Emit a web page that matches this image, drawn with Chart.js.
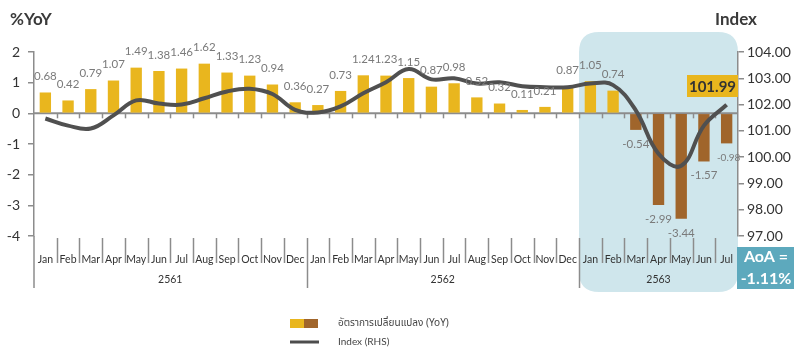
<!DOCTYPE html>
<html>
<head>
<meta charset="utf-8">
<script src="https://cdn.jsdelivr.net/npm/chart.js@4.4.1/dist/chart.umd.min.js"></script>
<style>
  html, body { margin: 0; padding: 0; background: #fff; }
  #wrap { width: 794px; height: 349px; position: relative; }
</style>
</head>
<body>
<div id="wrap"><canvas id="cpiChart" width="794" height="349"></canvas></div>
<script>
// Data
const months = ['Jan','Feb','Mar','Apr','May','Jun','Jul','Aug','Sep','Oct','Nov','Dec',
                'Jan','Feb','Mar','Apr','May','Jun','Jul','Aug','Sep','Oct','Nov','Dec',
                'Jan','Feb','Mar','Apr','May','Jun','Jul'];
const years = ['2561', '2562', '2563'];
const monthsPerYear = [12, 12, 7];
const yoyChange = [0.68, 0.42, 0.79, 1.07, 1.49, 1.38, 1.46, 1.62, 1.33, 1.23, 0.94, 0.36,
                   0.27, 0.73, 1.24, 1.23, 1.15, 0.87, 0.98, 0.52, 0.32, 0.11, 0.21, 0.87,
                   1.05, 0.74, -0.54, -2.99, -3.44, -1.57, -0.98];
const indexRHS = [101.47, 101.2, 101.09, 101.59, 102.16, 102.04, 102.0, 102.24, 102.5, 102.6, 102.4, 101.8,
                  101.7, 101.93, 102.43, 102.85, 103.35, 102.96, 103.0, 102.8, 102.85, 102.7, 102.66, 102.66,
                  102.8, 102.74, 101.78, 100.13, 99.67, 101.2, 101.99];
const leftTicks = [-4, -3, -2, -1, 0, 1, 2];
const rightTicks = [97, 98, 99, 100, 101, 102, 103, 104];
const lastIndexLabel = '101.99';
const aoaText = ['AoA =', '-1.11%'];
const legendBar = 'อัตราการเปลี่ยนแปลง (YoY)';
const legendLine = 'Index (RHS)';

const GOLD = '#E9B61E';
const BROWN = '#A0652B';
const HILITE = '#CFE6EC';
const AXIS = '#8C8C8C';
const FONT = 'Lato, "Noto Sans", sans-serif';
const THAI = '"Noto Sans Thai", "Noto Sans Thai UI", "Noto Sans", sans-serif';

function roundRect(ctx, x, y, w, h, r) {
  ctx.beginPath();
  ctx.moveTo(x + r, y);
  ctx.lineTo(x + w - r, y);
  ctx.quadraticCurveTo(x + w, y, x + w, y + r);
  ctx.lineTo(x + w, y + h - r);
  ctx.quadraticCurveTo(x + w, y + h, x + w - r, y + h);
  ctx.lineTo(x + r, y + h);
  ctx.quadraticCurveTo(x, y + h, x, y + h - r);
  ctx.lineTo(x, y + r);
  ctx.quadraticCurveTo(x, y, x + r, y);
  ctx.closePath();
}

// highlight box behind 2563
const highlightPlugin = {
  id: 'highlight',
  beforeDraw(chart) {
    const { ctx, chartArea, scales } = chart;
    const start = monthsPerYear[0] + monthsPerYear[1];
    const x0 = scales.x.getPixelForValue(start - 0.5);
    const x1 = chartArea.right;
    ctx.save();
    ctx.fillStyle = HILITE;
    roundRect(ctx, x0, 32, x1 - x0, 260, 20);
    ctx.fill();
    ctx.restore();
  }
};

// zero line, category separators, year labels
const axisExtrasPlugin = {
  id: 'axisExtras',
  beforeDatasetsDraw(chart) {
    const { ctx, chartArea, scales } = chart;
    const x = scales.x, y = scales.y;
    const y0 = y.getPixelForValue(0);
    ctx.save();
    ctx.strokeStyle = AXIS;
    ctx.lineWidth = 2;
    ctx.beginPath();
    ctx.moveTo(chartArea.left, y0);
    ctx.lineTo(chartArea.right, y0);
    ctx.stroke();
    ctx.lineWidth = 1.5;
    for (let i = 1; i < months.length; i++) {
      const bx = Math.round(x.getPixelForValue(i - 0.5)) + 0.5;
      ctx.beginPath();
      ctx.moveTo(bx, y0);
      ctx.lineTo(bx, y0 + 5);
      ctx.stroke();
    }
    ctx.restore();
  },
  afterDraw(chart) {
    const { ctx, chartArea, scales } = chart;
    const x = scales.x;
    ctx.save();
    ctx.strokeStyle = AXIS;
    ctx.lineWidth = 1.5;
    // left axis continues down
    ctx.beginPath();
    ctx.moveTo(chartArea.left, chartArea.bottom);
    ctx.lineTo(chartArea.left, 288);
    ctx.stroke();
    let yearEnd = 0;
    const yearEnds = monthsPerYear.map(n => (yearEnd += n));
    for (let i = 1; i < months.length; i++) {
      const bx = Math.round(x.getPixelForValue(i - 0.5)) + 0.5;
      const isYear = yearEnds.includes(i);
      ctx.beginPath();
      ctx.moveTo(bx, chartArea.bottom + 2);
      ctx.lineTo(bx, isYear ? 288 : 263);
      ctx.stroke();
    }
    // year labels
    ctx.fillStyle = '#333';
    ctx.font = '10.5px ' + FONT;
    ctx.textAlign = 'center';
    ctx.textBaseline = 'middle';
    let s = 0;
    years.forEach((yr, k) => {
      const e = s + monthsPerYear[k];
      const cx = (x.getPixelForValue(s - 0.5) + x.getPixelForValue(e - 0.5)) / 2;
      ctx.fillText(yr, cx, 280);
      s = e;
    });
    ctx.restore();
  }
};

// value labels, titles, boxes, legend
const annotatePlugin = {
  id: 'annotate',
  afterDraw(chart) {
    const { ctx, scales } = chart;
    const meta = chart.getDatasetMeta(0);
    ctx.save();
    ctx.fillStyle = '#7A7A7A';
    ctx.textAlign = 'center';
    ctx.textBaseline = 'middle';
    meta.data.forEach((bar, i) => {
      const v = yoyChange[i];
      const last = i === yoyChange.length - 1;
      ctx.font = (last ? '10px ' : '11.5px ') + FONT;
      const ty = v >= 0 ? bar.y - 16 : bar.y + 14;
      ctx.fillText(v.toFixed(2), bar.x + (last ? 2 : 0), ty);
    });

    // titles
    ctx.fillStyle = '#3A3A3A';
    ctx.font = 'bold 17px ' + FONT;
    ctx.textAlign = 'left';
    ctx.textBaseline = 'alphabetic';
    ctx.fillText('%YoY', 10, 25);
    ctx.fillText('Index', 715, 25);

    // last index value box
    const lineMeta = chart.getDatasetMeta(1);
    const lp = lineMeta.data[lineMeta.data.length - 1];
    ctx.fillStyle = GOLD;
    ctx.fillRect(687, 75, scales.y1.left - 687, 22);
    ctx.fillStyle = '#333';
    ctx.font = 'bold 15px ' + FONT;
    ctx.textAlign = 'center';
    ctx.textBaseline = 'middle';
    ctx.fillText(lastIndexLabel, (687 + scales.y1.left) / 2, 87);

    // AoA box
    ctx.fillStyle = '#5DA9BD';
    ctx.fillRect(737, 247, 57, 42);
    ctx.fillStyle = '#fff';
    ctx.font = 'bold 16px ' + FONT;
    ctx.fillText(aoaText[0], 766, 257);
    ctx.fillText(aoaText[1], 766, 279);

    // legend
    ctx.fillStyle = GOLD;
    ctx.fillRect(290, 319, 14, 9);
    ctx.fillStyle = BROWN;
    ctx.fillRect(304, 319, 14, 9);
    ctx.strokeStyle = '#4D4D4D';
    ctx.lineWidth = 3;
    ctx.beginPath();
    ctx.moveTo(290, 342);
    ctx.lineTo(319, 342);
    ctx.stroke();
    ctx.fillStyle = '#444';
    ctx.textAlign = 'left';
    ctx.font = '10px ' + THAI;
    ctx.fillText(legendBar, 338, 324);
    ctx.font = '10px ' + FONT;
    ctx.fillText(legendLine, 338, 342);
    ctx.restore();
  }
};

const chart = new Chart(document.getElementById('cpiChart').getContext('2d'), {
  type: 'bar',
  data: {
    labels: months,
    datasets: [{
      type: 'bar',
      data: yoyChange,
      yAxisID: 'y',
      backgroundColor: yoyChange.map(v => v >= 0 ? GOLD : BROWN),
      barPercentage: 0.5,
      categoryPercentage: 1,
      order: 2
    }, {
      type: 'line',
      data: indexRHS,
      yAxisID: 'y1',
      borderColor: '#505050',
      borderWidth: 4,
      pointRadius: 0,
      tension: 0.4,
      fill: false,
      order: 1
    }]
  },
  options: {
    responsive: false,
    animation: false,
    devicePixelRatio: 1,
    layout: { padding: { top: 52, left: 0, right: 0, bottom: 0 } },
    plugins: { legend: { display: false }, tooltip: { enabled: false } },
    scales: {
      x: {
        grid: { display: false },
        border: { display: false },
        ticks: { color: '#333', font: { family: FONT, size: 10.5 }, padding: 9, autoSkip: false, maxRotation: 0 },
        afterFit(scale) { scale.height = 113; }
      },
      y: {
        position: 'left',
        min: -4, max: 2,
        afterBuildTicks(scale) { scale.ticks = leftTicks.map(v => ({ value: v })); },
        grid: { drawOnChartArea: false, tickLength: 6, color: AXIS, lineWidth: 1.5 },
        border: { color: AXIS, width: 1.5 },
        ticks: { color: '#333', font: { family: FONT, size: 14 }, padding: 8 },
        afterFit(scale) { scale.width = 34; }
      },
      y1: {
        position: 'right',
        min: 97, max: 104,
        afterBuildTicks(scale) { scale.ticks = rightTicks.map(v => ({ value: v })); },
        grid: { drawOnChartArea: false, tickLength: 6, color: AXIS, lineWidth: 1.5 },
        border: { color: AXIS, width: 1.5 },
        ticks: { color: '#333', font: { family: FONT, size: 14 }, padding: 3, callback: v => Number(v).toFixed(2) },
        afterFit(scale) { scale.width = 56; }
      }
    }
  },
  plugins: [highlightPlugin, axisExtrasPlugin, annotatePlugin]
});
</script>
</body>
</html>
